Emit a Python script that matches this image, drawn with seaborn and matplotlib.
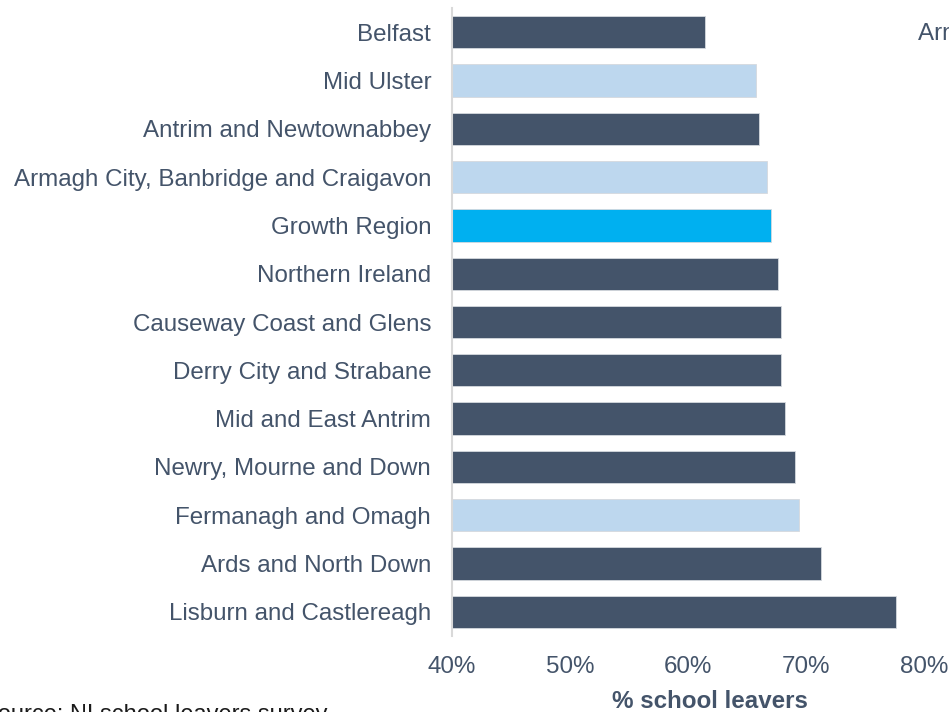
import matplotlib
matplotlib.use("Agg")
import matplotlib.pyplot as plt
import seaborn as sns
import pandas as pd

categories = [
    "Belfast",
    "Mid Ulster",
    "Antrim and Newtownabbey",
    "Armagh City, Banbridge and Craigavon",
    "Growth Region",
    "Northern Ireland",
    "Causeway Coast and Glens",
    "Derry City and Strabane",
    "Mid and East Antrim",
    "Newry, Mourne and Down",
    "Fermanagh and Omagh",
    "Ards and North Down",
    "Lisburn and Castlereagh",
]
values = [61.4, 65.8, 66.0, 66.7, 67.0, 67.6, 67.9, 67.9, 68.2, 69.1, 69.4, 71.3, 77.6]
groups = ["other", "growth", "other", "growth", "region", "other", "other",
          "other", "other", "other", "growth", "other", "other"]
group_colors = {"other": "#44546A", "growth": "#BDD7EE", "region": "#00B0F0"}
x_ticks = [40, 50, 60, 70, 80]
x_tick_labels = ["40%", "50%", "60%", "70%", "80%"]

df = pd.DataFrame({"area": categories, "value": values, "group": groups})

sns.set_style("white")
plt.rcParams["font.family"] = ["Liberation Sans", "DejaVu Sans"]
text_color = "#44546A"
fs = 17.4

fig = plt.figure(figsize=(9.49, 7.12), dpi=100)
ax = fig.add_axes([452 / 949, (712 - 636) / 712, (924 - 452) / 949, (636 - 8) / 712])

sns.barplot(data=df, y="area", x="value", hue="group", palette=group_colors,
            dodge=False, width=0.67, orient="h", ax=ax, legend=False,
            saturation=1, edgecolor="#D5D9DE", linewidth=0.6)

ax.set_xlim(40, 80)
ax.set_ylim(12.5, -0.5)
ax.set_xticks(x_ticks)
ax.set_xticklabels(x_tick_labels)
ax.tick_params(axis="x", length=0, pad=14.5, labelsize=fs, labelcolor=text_color)
ax.tick_params(axis="y", length=0, pad=15, labelsize=fs, labelcolor=text_color)
ax.set_ylabel("")
ax.set_xlabel("")
for s in ["top", "right", "bottom"]:
    ax.spines[s].set_visible(False)
ax.spines["left"].set_color("#D9D9D9")
ax.spines["left"].set_linewidth(1.5)

fig.text(710 / 949, (712 - 701) / 712, "% school leavers", ha="center", va="center",
         fontsize=fs, fontweight="bold", color=text_color)
fig.text(918 / 949, (712 - 34) / 712, "Armagh City, Banbridge and Craigavon",
         ha="left", va="center", fontsize=fs, color=text_color)
fig.text(-18 / 949, (712 - 704) / 712, "Source: NI school leavers survey",
         ha="left", va="top", fontsize=fs * 0.98, color="#1a1a1a")

fig.savefig("out.png", dpi=100)
